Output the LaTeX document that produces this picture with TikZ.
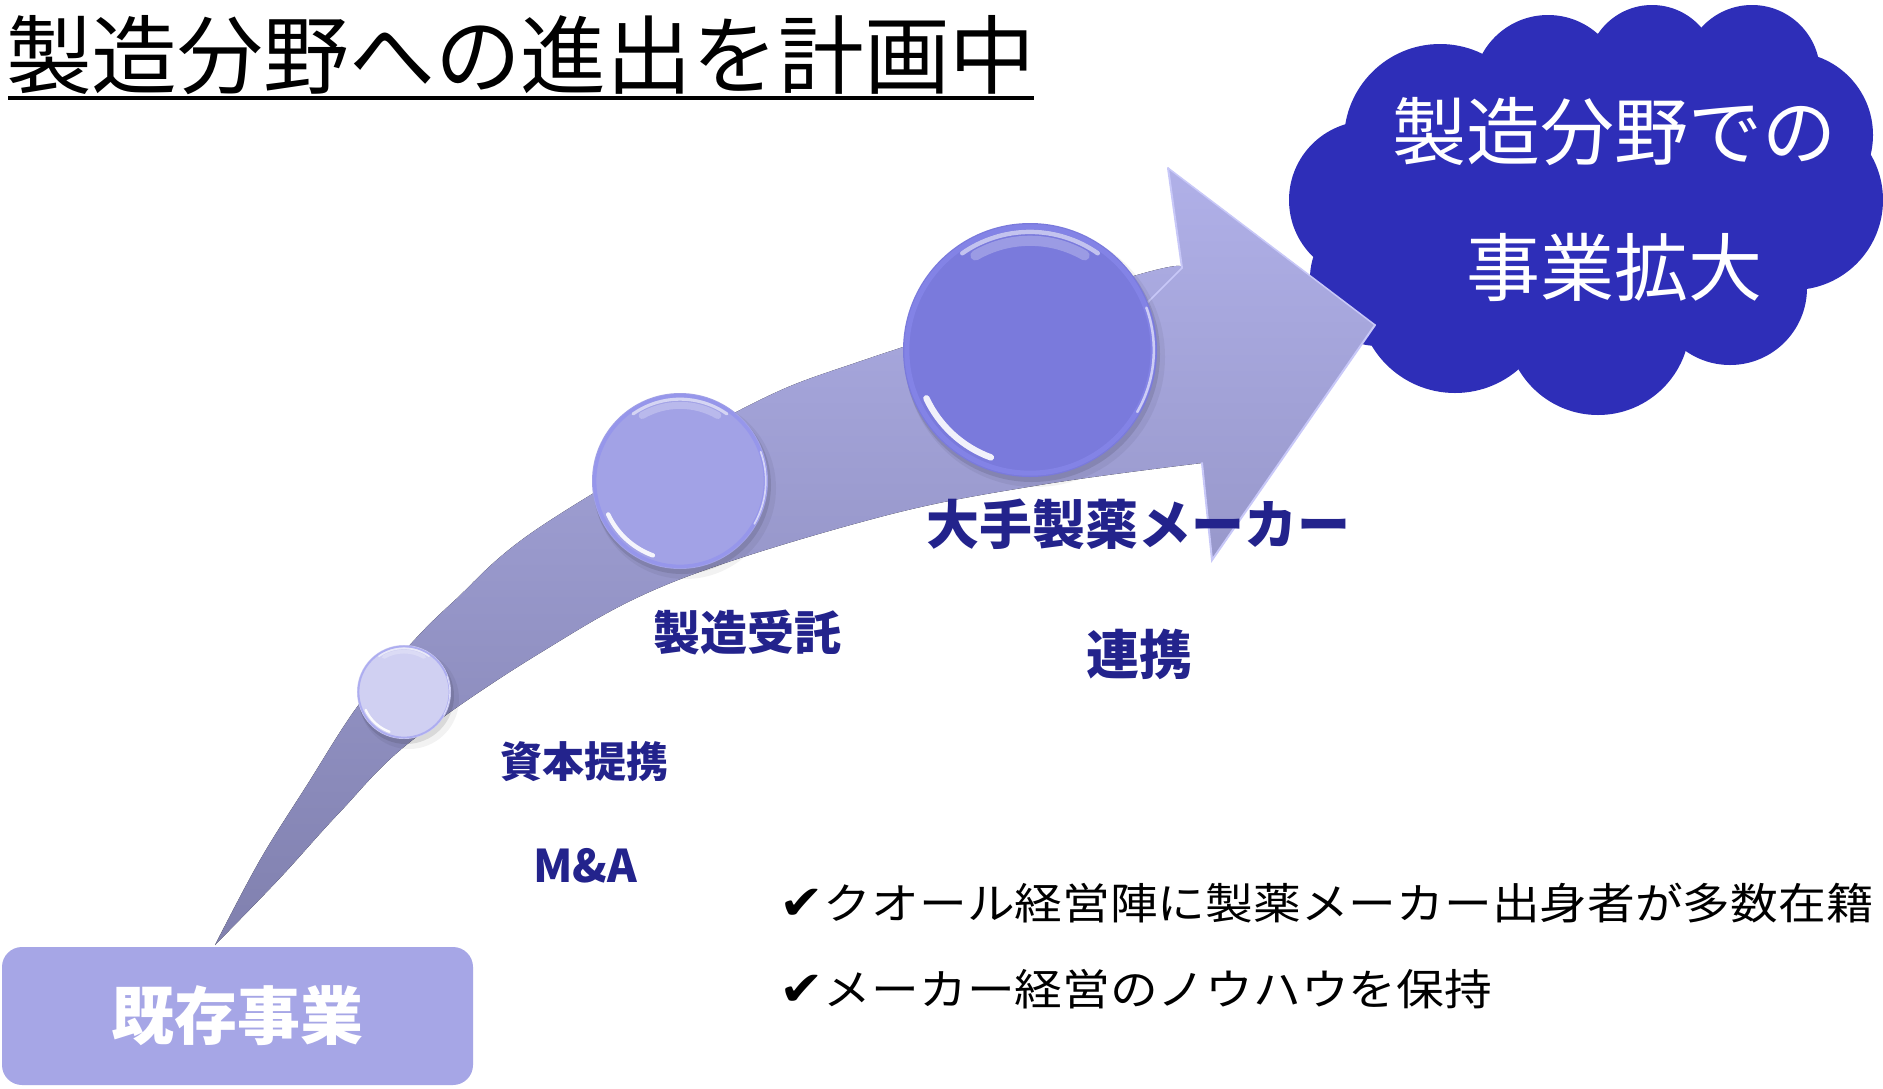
\documentclass[tikz,border=0pt]{standalone}
\usepackage{fontspec}
\usepackage{graphicx}
\newfontfamily\jp{Noto Sans CJK JP}
\newfontfamily\dv{DejaVu Sans}
\newcommand\setfs[1]{\fontsize{#1}{#1}\selectfont}
\definecolor{cloudblue}{RGB}{46,46,184}
\definecolor{navy}{RGB}{35,35,140}
\definecolor{boxlav}{RGB}{166,166,230}
\definecolor{sphA}{RGB}{208,208,242}
\definecolor{sphB}{RGB}{162,162,230}
\definecolor{sphC}{RGB}{122,122,220}
\definecolor{arrtop}{RGB}{176,176,232}
\definecolor{arrbot}{RGB}{128,128,174}
\definecolor{edgehl}{RGB}{200,200,248}
\definecolor{rimblue}{RGB}{140,140,240}
\newcommand\gsph[5]{%
  \fill[black,opacity=0.05] ({#2+5},{#3+7}) circle ({#4+3});
  \fill[black,opacity=0.10] ({#2+2},{#3+4}) circle ({#4+1});
  \node[circle, inner sep=0pt, minimum size={2*#4pt}, fill=#5] (#1) at (#2,#3) {};
  \draw[rimblue, opacity=0.5, line width={0.04*#4pt}] (#1.center) circle ({0.97*#4});
  \draw[white, opacity=0.55, line width={0.035*#4pt}, line cap=round] (#1.center) ++(-55:{0.93*#4}) arc[start angle=-55, end angle=-125, radius={0.93*#4}];
  \draw[white, opacity=0.25, line width={0.08*#4pt}, line cap=round] (#1.center) ++(-60:{0.86*#4}) arc[start angle=-60, end angle=-120, radius={0.86*#4}];
  \draw[white, opacity=0.9, line width={0.05*#4pt}, line cap=round] (#1.center) ++(-205:{0.9*#4}) arc[start angle=-205, end angle=-250, radius={0.9*#4}];
  \draw[white, opacity=0.6, line width={0.02*#4pt}, line cap=round] (#1.center) ++(30:{0.975*#4}) arc[start angle=30, end angle=-20, radius={0.975*#4}];
}
\begin{document}
\begin{tikzpicture}[x=1pt,y=-1pt,
  lbl/.style={text=navy, inner sep=0pt},
  chk/.style={text=black, inner sep=0pt, anchor=west, font=\jp\setfs{43}},
  ehl/.style={draw=edgehl, line width=2pt, line cap=round}]
\fill[white] (0,0) rectangle (1883,1088);
\useasboundingbox (0,0) rectangle (1883,1088);

% title
\node[anchor=west, inner sep=0pt, font=\jp\setfs{85.8}] (title) at (6,55) {製造分野への進出を計画中};
\draw[line width=3.5pt] (8,98) -- (1034,98);

% cloud
\foreach \cx/\cy/\cr in {1368/200/79, 1440/140/96, 1548/90/75, 1652/70/65, 1752/73/68, 1790/135/83, 1793/200/90, 1730/288/77, 1598/323/92, 1455/296/97, 1378/278/68}
  \fill[cloudblue] (\cx,\cy) circle (\cr);
\fill[cloudblue] (1368,200) -- (1440,140) -- (1548,90) -- (1652,70) -- (1752,73) -- (1790,135) -- (1793,200) -- (1730,288) -- (1598,323) -- (1455,296) -- (1378,278) -- cycle;

% arrow
\fill[top color=arrtop, bottom color=arrbot]
  plot[smooth, tension=0.6] coordinates {(215,945) (260,860) (307,785) (357,707) (407,648) (453,602) (540,527) (740,410) (870,358) (1137,275) (1182,268)}
  -- (1168,168) -- (1375,325) -- (1212,560) -- (1202,463)
  -- plot[smooth, tension=0.6] coordinates {(1202,463) (1040,485) (880,517) (673,582) (540,653) (410,742) (340,812) (280,878) (215,945)} -- cycle;
\draw[ehl] (1182,268) -- (1168,168);
\draw[ehl, line width=1.5pt] (1168,168) -- (1375,325);
\draw[ehl] (1375,325) -- (1212,560) -- (1202,463);
\draw[ehl, line width=1.5pt] (1040,410) -- (1182,268);

% cloud text
\node[text=white, font=\jp\setfs{74}, inner sep=0pt] (c1) at (1614,132) {製造分野での};
\node[text=white, font=\jp\setfs{74}, inner sep=0pt] (c2) at (1614,267) {事業拡大};

% spheres
\gsph{s1}{404}{692}{47}{sphA}
\gsph{s2}{680}{481}{88}{sphB}
\gsph{s3}{1030}{350}{127}{sphC}

% labels
\node[lbl, font=\jp\bfseries\setfs{42}] (l1) at (584,762) {資本提携};
\node[lbl, font=\jp\bfseries\setfs{45}] (l2) at (585,866) {M\&A};
\node[lbl, font=\jp\bfseries\setfs{47}] (l3) at (747,633) {製造受託};
\node[lbl, font=\jp\bfseries\setfs{53}] (l4) at (1138,524) {大手製薬メーカー};
\node[lbl, font=\jp\bfseries\setfs{53}] (l5) at (1139,654) {連携};

% base box
\node[fill=boxlav, rounded corners=20pt, minimum width=471pt, minimum height=138pt, inner sep=0pt, text=white, font=\jp\bfseries\setfs{63}] (base) at (237.5,1016) {既存事業};

% check lines
\node[chk] (t1) at (779,903) {\scalebox{1.11}[1]{{\dv\setfs{48}✔}クオール経営陣に製薬メーカー出身者が多数在籍}};
\node[chk] (t2) at (779,989) {\scalebox{1.11}[1]{{\dv\setfs{48}✔}メーカー経営のノウハウを保持}};
\end{tikzpicture}
\end{document}
